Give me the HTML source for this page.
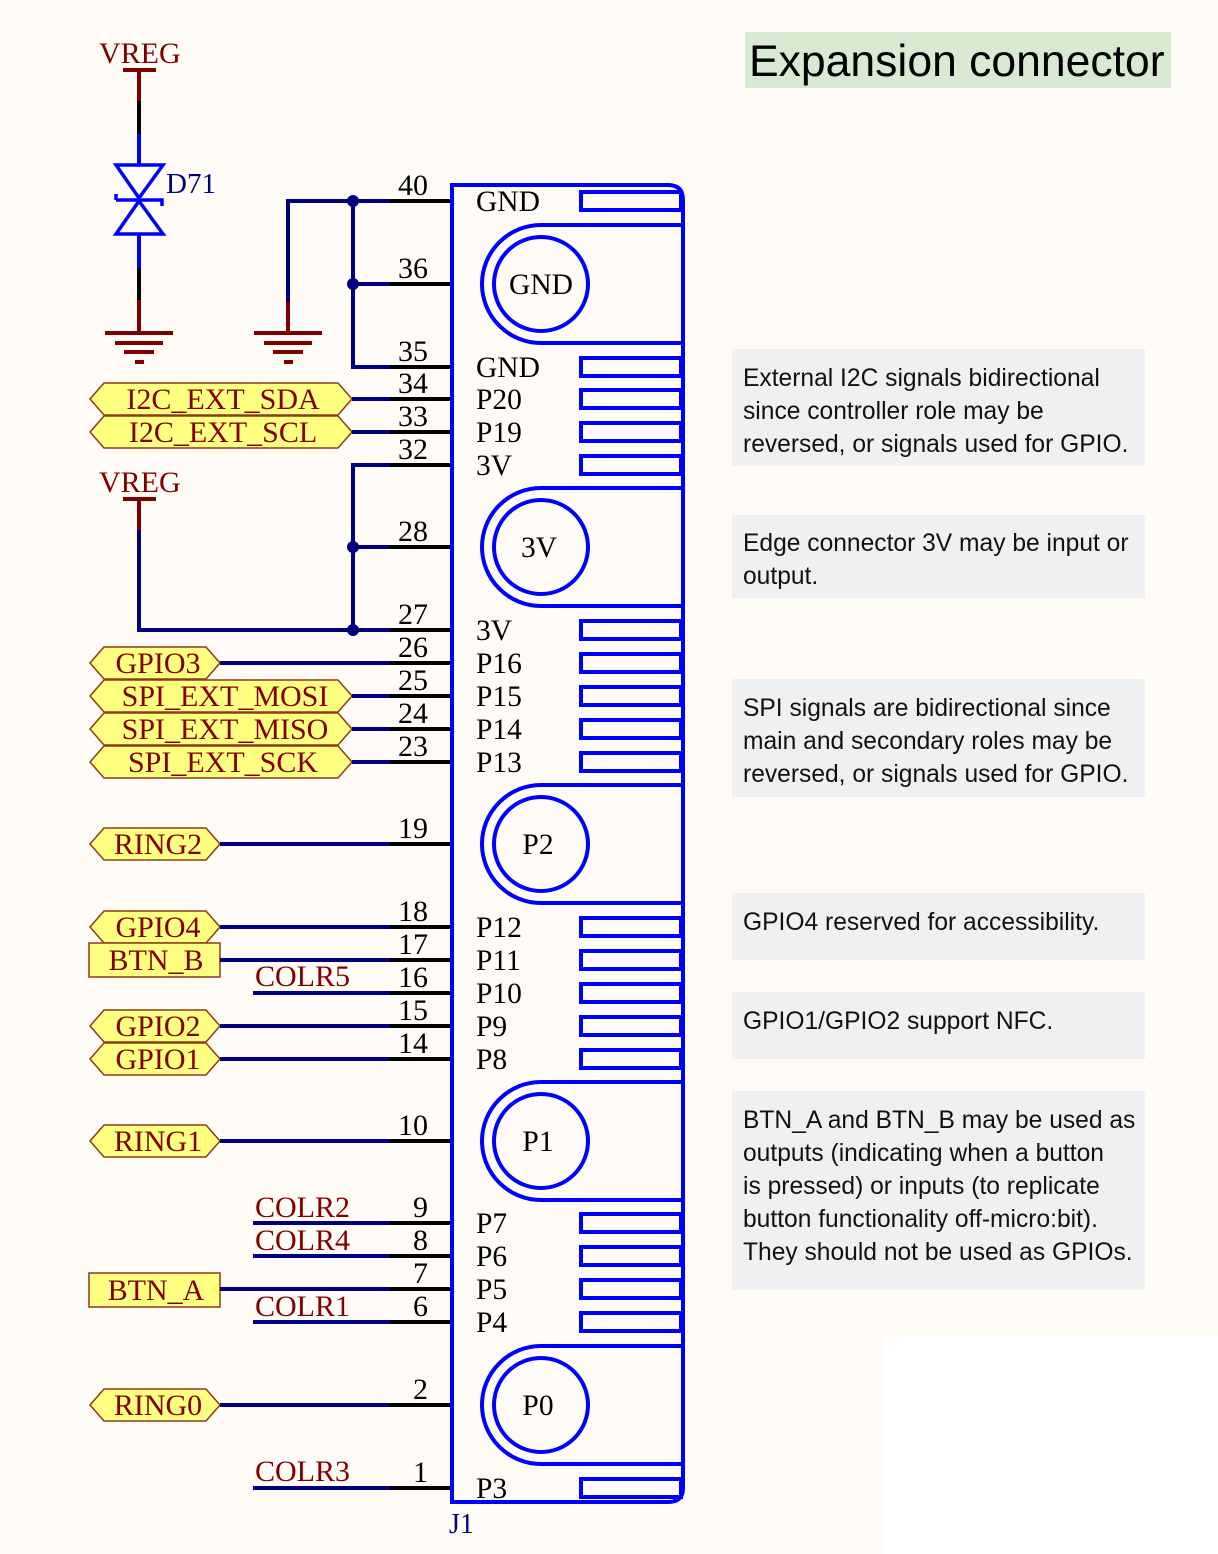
<!DOCTYPE html>
<html><head><meta charset="utf-8"><style>
html,body{margin:0;padding:0;background:#fffcf7;}
svg{display:block;}
.ser{font-family:"Liberation Serif",serif;}
.note{font-family:"Liberation Sans",sans-serif;font-size:24.6px;fill:#111;}
</style></head><body>
<svg width="1218" height="1554" viewBox="0 0 1218 1554" xmlns="http://www.w3.org/2000/svg">
<rect x="0" y="0" width="1218" height="1554" fill="#fffcf7"/>
<rect x="885" y="1336" width="333" height="218" fill="#ffffff"/>

<!-- Title -->
<rect x="745" y="32" width="426" height="56" fill="#d9ead3"/>
<text x="749" y="76" font-family="Liberation Sans, sans-serif" font-size="44.5" fill="#000">Expansion connector</text>

<!-- Notes -->
<g>
<rect x="732" y="349" width="413" height="117" fill="#eff0f1"/>
<text class="note" x="743" y="386">External I2C signals bidirectional</text>
<text class="note" x="743" y="419">since controller role may be</text>
<text class="note" x="743" y="452">reversed, or signals used for GPIO.</text>
<rect x="732" y="515" width="413" height="83" fill="#eff0f1"/>
<text class="note" x="743" y="551">Edge connector 3V may be input or</text>
<text class="note" x="743" y="584">output.</text>
<rect x="732" y="679" width="413" height="118" fill="#eff0f1"/>
<text class="note" x="743" y="716">SPI signals are bidirectional since</text>
<text class="note" x="743" y="749">main and secondary roles may be</text>
<text class="note" x="743" y="782">reversed, or signals used for GPIO.</text>
<rect x="732" y="893" width="413" height="67" fill="#eff0f1"/>
<text class="note" x="743" y="930">GPIO4 reserved for accessibility.</text>
<rect x="732" y="992" width="413" height="67" fill="#eff0f1"/>
<text class="note" x="743" y="1029">GPIO1/GPIO2 support NFC.</text>
<rect x="732" y="1091" width="413" height="199" fill="#eff0f1"/>
<text class="note" x="743" y="1128">BTN_A and BTN_B may be used as</text>
<text class="note" x="743" y="1161">outputs (indicating when a button</text>
<text class="note" x="743" y="1194">is pressed) or inputs (to replicate</text>
<text class="note" x="743" y="1227">button functionality off-micro:bit).</text>
<text class="note" x="743" y="1260">They should not be used as GPIOs.</text>
</g>

<!-- VREG + diode -->
<g stroke-width="4" fill="none">
<text x="99" y="63" class="ser" font-size="30" fill="#800000" stroke="none">VREG</text>
<line x1="123" y1="70" x2="156" y2="70" stroke="#800000"/>
<line x1="139" y1="70" x2="139" y2="101" stroke="#800000"/>
<line x1="139" y1="101" x2="139" y2="134" stroke="#000"/>
<line x1="139" y1="134" x2="139" y2="165" stroke="#0000ff"/>
<polygon points="116,165 163,165 139,198" stroke="#0000ff" stroke-width="3.5" fill="#fff"/>
<polygon points="116,234 163,234 139,201" stroke="#0000ff" stroke-width="3.5" fill="#fff"/>
<path d="M 116 200 L 162 200 L 162 206 M 116 200 L 116 194" stroke="#0000ff" stroke-width="3.5"/>
<text x="166" y="193" class="ser" font-size="29" fill="#000080" stroke="none">D71</text>
<line x1="139" y1="235" x2="139" y2="268" stroke="#0000ff"/>
<line x1="139" y1="268" x2="139" y2="300" stroke="#000"/>
<line x1="139" y1="300" x2="139" y2="333" stroke="#800000"/>
<g stroke="#800000">
<line x1="105" y1="333" x2="173" y2="333"/><line x1="115" y1="343" x2="163" y2="343"/>
<line x1="124" y1="352" x2="154" y2="352"/><line x1="135" y1="362" x2="144" y2="362"/>
</g>
<polyline points="353,201 288,201 288,302" stroke="#000080"/>
<line x1="288" y1="302" x2="288" y2="333" stroke="#800000"/>
<g stroke="#800000">
<line x1="254" y1="333" x2="322" y2="333"/><line x1="264" y1="343" x2="312" y2="343"/>
<line x1="273" y1="352" x2="303" y2="352"/><line x1="284" y1="362" x2="293" y2="362"/>
</g>
<polyline points="390,201 353,201 353,367 390,367" stroke="#000080"/>
<line x1="353" y1="284" x2="390" y2="284" stroke="#000080"/>
<text x="99" y="492" class="ser" font-size="30" fill="#800000" stroke="none">VREG</text>
<line x1="123" y1="499" x2="156" y2="499" stroke="#800000"/>
<line x1="139" y1="499" x2="139" y2="530" stroke="#800000"/>
<polyline points="139,530 139,630 390,630" stroke="#000080"/>
<polyline points="390,465 353,465 353,630" stroke="#000080"/>
<line x1="353" y1="547" x2="390" y2="547" stroke="#000080"/>
</g>
<g fill="#000080">
<circle cx="353" cy="201" r="6"/><circle cx="353" cy="284" r="6"/>
<circle cx="353" cy="547" r="6"/><circle cx="353" cy="630" r="6"/>
</g>

<!-- Net labels -->
<g stroke="#8b3a1a" stroke-width="1.5" fill="#ffff80">
<path d="M90 399 L104 383 L338 383 L352 399 L338 415 L104 415 Z"/>
<path d="M90 432 L104 416 L338 416 L352 432 L338 448 L104 448 Z"/>
<path d="M90 663 L104 647 L206 647 L220 663 L206 679 L104 679 Z"/>
<path d="M90 696 L104 680 L338 680 L352 696 L338 712 L104 712 Z"/>
<path d="M90 729 L104 713 L338 713 L352 729 L338 745 L104 745 Z"/>
<path d="M90 762 L104 746 L338 746 L352 762 L338 778 L104 778 Z"/>
<path d="M90 844 L104 828 L206 828 L220 844 L206 860 L104 860 Z"/>
<path d="M90 927 L104 911 L206 911 L220 927 L206 943 L104 943 Z"/>
<rect x="89" y="943" width="131" height="34"/>
<path d="M90 1026 L104 1010 L206 1010 L220 1026 L206 1042 L104 1042 Z"/>
<path d="M90 1059 L104 1043 L206 1043 L220 1059 L206 1075 L104 1075 Z"/>
<path d="M90 1141 L104 1125 L206 1125 L220 1141 L206 1157 L104 1157 Z"/>
<rect x="89" y="1273" width="131" height="34"/>
<path d="M90 1405 L104 1389 L206 1389 L220 1405 L206 1421 L104 1421 Z"/>
</g>
<g class="ser" font-size="30" fill="#800000" text-anchor="middle">
<text x="223" y="409">I2C_EXT_SDA</text>
<text x="223" y="442">I2C_EXT_SCL</text>
<text x="158" y="673">GPIO3</text>
<text x="225" y="706">SPI_EXT_MOSI</text>
<text x="225" y="739">SPI_EXT_MISO</text>
<text x="223" y="772">SPI_EXT_SCK</text>
<text x="158" y="854">RING2</text>
<text x="158" y="937">GPIO4</text>
<text x="156" y="970">BTN_B</text>
<text x="158" y="1036">GPIO2</text>
<text x="158" y="1069">GPIO1</text>
<text x="158" y="1151">RING1</text>
<text x="156" y="1300">BTN_A</text>
<text x="158" y="1415">RING0</text>
</g>
<g class="ser" font-size="30" fill="#800000">
<text x="255" y="986">COLR5</text>
<text x="255" y="1217">COLR2</text>
<text x="255" y="1250">COLR4</text>
<text x="255" y="1316">COLR1</text>
<text x="255" y="1481">COLR3</text>
</g>

<g stroke="#000080" stroke-width="4">
<line x1="352" y1="399" x2="390" y2="399"/><line x1="352" y1="432" x2="390" y2="432"/>
<line x1="220" y1="663" x2="390" y2="663"/><line x1="352" y1="696" x2="390" y2="696"/>
<line x1="352" y1="729" x2="390" y2="729"/><line x1="352" y1="762" x2="390" y2="762"/>
<line x1="220" y1="844" x2="390" y2="844"/><line x1="220" y1="927" x2="390" y2="927"/>
<line x1="220" y1="960" x2="390" y2="960"/><line x1="253" y1="993" x2="390" y2="993"/>
<line x1="220" y1="1026" x2="390" y2="1026"/><line x1="220" y1="1059" x2="390" y2="1059"/>
<line x1="220" y1="1141" x2="390" y2="1141"/><line x1="253" y1="1223" x2="390" y2="1223"/>
<line x1="253" y1="1256" x2="390" y2="1256"/><line x1="220" y1="1289" x2="390" y2="1289"/>
<line x1="253" y1="1322" x2="390" y2="1322"/><line x1="220" y1="1405" x2="390" y2="1405"/>
<line x1="253" y1="1488" x2="390" y2="1488"/>
</g>

<g stroke="#000" stroke-width="4">
<line x1="390" y1="201" x2="452" y2="201"/><line x1="390" y1="284" x2="452" y2="284"/>
<line x1="390" y1="367" x2="452" y2="367"/><line x1="390" y1="399" x2="452" y2="399"/>
<line x1="390" y1="432" x2="452" y2="432"/><line x1="390" y1="465" x2="452" y2="465"/>
<line x1="390" y1="547" x2="452" y2="547"/><line x1="390" y1="630" x2="452" y2="630"/>
<line x1="390" y1="663" x2="452" y2="663"/><line x1="390" y1="696" x2="452" y2="696"/>
<line x1="390" y1="729" x2="452" y2="729"/><line x1="390" y1="762" x2="452" y2="762"/>
<line x1="390" y1="844" x2="452" y2="844"/><line x1="390" y1="927" x2="452" y2="927"/>
<line x1="390" y1="960" x2="452" y2="960"/><line x1="390" y1="993" x2="452" y2="993"/>
<line x1="390" y1="1026" x2="452" y2="1026"/><line x1="390" y1="1059" x2="452" y2="1059"/>
<line x1="390" y1="1141" x2="452" y2="1141"/><line x1="390" y1="1223" x2="452" y2="1223"/>
<line x1="390" y1="1256" x2="452" y2="1256"/><line x1="390" y1="1289" x2="452" y2="1289"/>
<line x1="390" y1="1322" x2="452" y2="1322"/><line x1="390" y1="1405" x2="452" y2="1405"/>
<line x1="390" y1="1488" x2="452" y2="1488"/>
</g>
<g class="ser" font-size="30" fill="#000" text-anchor="end">
<text x="428" y="195">40</text><text x="428" y="278">36</text><text x="428" y="361">35</text>
<text x="428" y="393">34</text><text x="428" y="426">33</text><text x="428" y="459">32</text>
<text x="428" y="541">28</text><text x="428" y="624">27</text><text x="428" y="657">26</text>
<text x="428" y="690">25</text><text x="428" y="723">24</text><text x="428" y="756">23</text>
<text x="428" y="838">19</text><text x="428" y="921">18</text><text x="428" y="954">17</text>
<text x="428" y="987">16</text><text x="428" y="1020">15</text><text x="428" y="1053">14</text>
<text x="428" y="1135">10</text><text x="428" y="1217">9</text><text x="428" y="1250">8</text>
<text x="428" y="1283">7</text><text x="428" y="1316">6</text><text x="428" y="1399">2</text>
<text x="428" y="1482">1</text>
</g>

<g stroke="#0000ff" stroke-width="4" fill="none">
<path d="M452 185 L668 185 Q683 185 683 200 L683 1488 Q683 1502 668 1502 L452 1502 Z"/>
<g>
<rect x="581" y="192" width="100" height="18"/>
<rect x="581" y="358" width="100" height="18"/><rect x="581" y="390" width="100" height="18"/>
<rect x="581" y="423" width="100" height="18"/><rect x="581" y="456" width="100" height="18"/>
<rect x="581" y="621" width="100" height="18"/><rect x="581" y="654" width="100" height="18"/>
<rect x="581" y="687" width="100" height="18"/><rect x="581" y="720" width="100" height="18"/>
<rect x="581" y="753" width="100" height="18"/>
<rect x="581" y="918" width="100" height="18"/><rect x="581" y="951" width="100" height="18"/>
<rect x="581" y="984" width="100" height="18"/><rect x="581" y="1017" width="100" height="18"/>
<rect x="581" y="1050" width="100" height="18"/>
<rect x="581" y="1214" width="100" height="18"/><rect x="581" y="1247" width="100" height="18"/>
<rect x="581" y="1280" width="100" height="18"/><rect x="581" y="1313" width="100" height="18"/>
<rect x="581" y="1479" width="100" height="18"/>
</g>
<path d="M683 225 L541 225 A59 59 0 0 0 541 343 L683 343"/><circle cx="541" cy="284" r="47"/>
<path d="M683 488 L541 488 A59 59 0 0 0 541 606 L683 606"/><circle cx="541" cy="547" r="47"/>
<path d="M683 785 L541 785 A59 59 0 0 0 541 903 L683 903"/><circle cx="541" cy="844" r="47"/>
<path d="M683 1082 L541 1082 A59 59 0 0 0 541 1200 L683 1200"/><circle cx="541" cy="1141" r="47"/>
<path d="M683 1346 L541 1346 A59 59 0 0 0 541 1464 L683 1464"/><circle cx="541" cy="1405" r="47"/>
</g>
<g class="ser" font-size="29.5" fill="#000">
<text x="476" y="211">GND</text><text x="476" y="377">GND</text><text x="476" y="409">P20</text>
<text x="476" y="442">P19</text><text x="476" y="475">3V</text><text x="476" y="640">3V</text>
<text x="476" y="673">P16</text><text x="476" y="706">P15</text><text x="476" y="739">P14</text>
<text x="476" y="772">P13</text><text x="476" y="937">P12</text><text x="476" y="970">P11</text>
<text x="476" y="1003">P10</text><text x="476" y="1036">P9</text><text x="476" y="1069">P8</text>
<text x="476" y="1233">P7</text><text x="476" y="1266">P6</text><text x="476" y="1299">P5</text>
<text x="476" y="1332">P4</text><text x="476" y="1498">P3</text>
</g>
<g class="ser" font-size="29.5" fill="#000" text-anchor="middle">
<text x="541" y="294">GND</text><text x="539" y="557">3V</text><text x="538" y="854">P2</text>
<text x="538" y="1151">P1</text><text x="538" y="1415">P0</text>
</g>
<text x="449" y="1533" class="ser" font-size="28" fill="#000080">J1</text>
</svg>
</body></html>
